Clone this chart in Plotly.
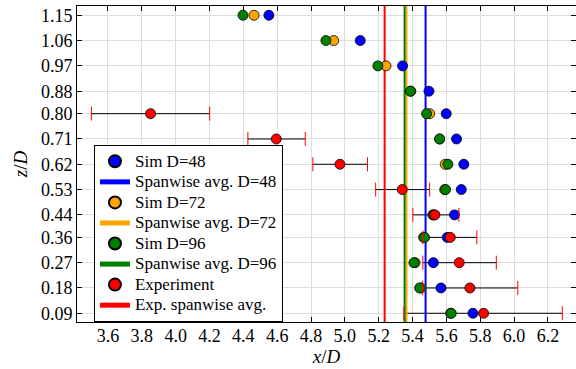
import plotly.graph_objects as go

# Vertical stations z/D and their tick labels
z = [0.09, 0.18, 0.27, 0.36, 0.44, 0.53, 0.62, 0.71, 0.80, 0.88, 0.97, 1.06, 1.15]
z_labels = ["0.09", "0.18", "0.27", "0.36", "0.44", "0.53", "0.62", "0.71",
            "0.80", "0.88", "0.97", "1.06", "1.15"]

# Simulated x/D at each station
sim_d48 = [5.757, 5.568, 5.523, 5.605, 5.648, 5.688, 5.703, 5.660, 5.599, 5.497, 5.341, 5.091, 4.551]
sim_d72 = [5.625, 5.450, 5.415, 5.465, 5.520, 5.590, 5.593, 5.560, 5.501, 5.390, 5.243, 4.934, 4.463]
sim_d96 = [5.629, 5.442, 5.408, 5.471, 5.524, 5.595, 5.609, 5.560, 5.483, 5.387, 5.195, 4.888, 4.398]

# Experimental x/D (lower stations only) with error-bar bounds
z_exp = [0.09, 0.18, 0.27, 0.36, 0.44, 0.53, 0.62, 0.71, 0.80]
exp_x = [5.820, 5.739, 5.676, 5.623, 5.532, 5.339, 4.971, 4.595, 3.852]
exp_lo = [5.349, 5.458, 5.461, 5.461, 5.402, 5.182, 4.811, 4.427, 3.502]
exp_hi = [6.285, 6.022, 5.895, 5.780, 5.674, 5.501, 5.134, 4.766, 4.201]

# Spanwise averages
avg_d48 = 5.477
avg_d72 = 5.364
avg_d96 = 5.353
avg_exp = 5.235

x_ticks = [3.6, 3.8, 4.0, 4.2, 4.4, 4.6, 4.8, 5.0, 5.2, 5.4, 5.6, 5.8, 6.0, 6.2]
x_labels = ["3.6", "3.8", "4.0", "4.2", "4.4", "4.6", "4.8", "5.0", "5.2",
            "5.4", "5.6", "5.8", "6.0", "6.2"]

BLUE, ORANGE, GREEN, RED = "#0000ff", "#ffa500", "#008000", "#ff0000"
FONT = "Liberation Serif"

x_range = [3.417, 6.366]
y_range = [0.059, 1.183]


def big(label, size=17):
    # legend rows are spaced by the smaller legend font; the label itself is larger
    return f"<span style='font-size:{size}px'>{label}</span>"


fig = go.Figure()

# Experimental error bars (drawn underneath everything else)
fig.add_trace(go.Scatter(
    x=exp_x, y=z_exp, mode="markers",
    marker=dict(size=1, color="rgba(0,0,0,0)"),
    error_x=dict(type="data", symmetric=False,
                 array=[h - v for h, v in zip(exp_hi, exp_x)],
                 arrayminus=[v - l for l, v in zip(exp_lo, exp_x)],
                 color="black", thickness=1, width=0),
    showlegend=False, hoverinfo="skip"))


def vline(xv, color, name, rank):
    return go.Scatter(x=[xv, xv], y=y_range, mode="lines",
                      line=dict(color=color, width=2), name=big(name), legendrank=rank)


fig.add_trace(vline(avg_exp, RED, "Exp. spanwise avg.", 8))
fig.add_trace(vline(avg_d72, ORANGE, "Spanwise avg. D=72", 4))
fig.add_trace(vline(avg_d96, GREEN, "Spanwise avg. D=96", 6))
fig.add_trace(vline(avg_d48, BLUE, "Spanwise avg. D=48", 2))


def sim(xs, ys, color, name, rank):
    return go.Scatter(x=xs, y=ys, mode="markers", name=big(name), legendrank=rank,
                      marker=dict(symbol="circle", size=10, color=color,
                                  line=dict(color="black", width=0.8)))


fig.add_trace(sim(sim_d48, z, BLUE, "Sim D=48", 1))
fig.add_trace(sim(sim_d72, z, ORANGE, "Sim D=72", 3))
fig.add_trace(sim(sim_d96, z, GREEN, "Sim D=96", 5))
fig.add_trace(sim(exp_x, z_exp, RED, "Experiment", 7))

# Red caps at the ends of each error bar
fig.add_trace(go.Scatter(
    x=exp_lo + exp_hi, y=z_exp + z_exp, mode="markers",
    marker=dict(symbol="line-ns", size=10, line=dict(color=RED, width=1)),
    showlegend=False, hoverinfo="skip"))

axis_common = dict(
    showline=True, linecolor="black", linewidth=1, mirror="ticks",
    ticks="inside", ticklen=5, tickcolor="black", tickwidth=1,
    showgrid=True, gridcolor="#dcdcdc", gridwidth=1, zeroline=False,
    tickfont=dict(family=FONT, size=18, color="black"),
)

fig.update_layout(
    width=576, height=369,
    margin=dict(l=77, r=0, t=6, b=47),
    paper_bgcolor="white", plot_bgcolor="white",
    font=dict(family=FONT, size=17, color="black"),
    xaxis=dict(range=x_range, tickvals=x_ticks, ticktext=x_labels, ticklabelstandoff=-3,
               title=dict(text="<i>x</i>/<i>D</i>", font=dict(family=FONT, size=19), standoff=0),
               **axis_common),
    yaxis=dict(range=y_range, tickvals=z, ticktext=z_labels,
               title=dict(text="<i>z</i>/<i>D</i>", font=dict(family=FONT, size=19), standoff=8),
               **axis_common),
    legend=dict(x=0.034, y=0.56, xanchor="left", yanchor="top",
                bgcolor="white", bordercolor="black", borderwidth=1,
                font=dict(family=FONT, size=13.5), tracegroupgap=0,
                itemsizing="constant"),
)

fig.write_html("out.html")
